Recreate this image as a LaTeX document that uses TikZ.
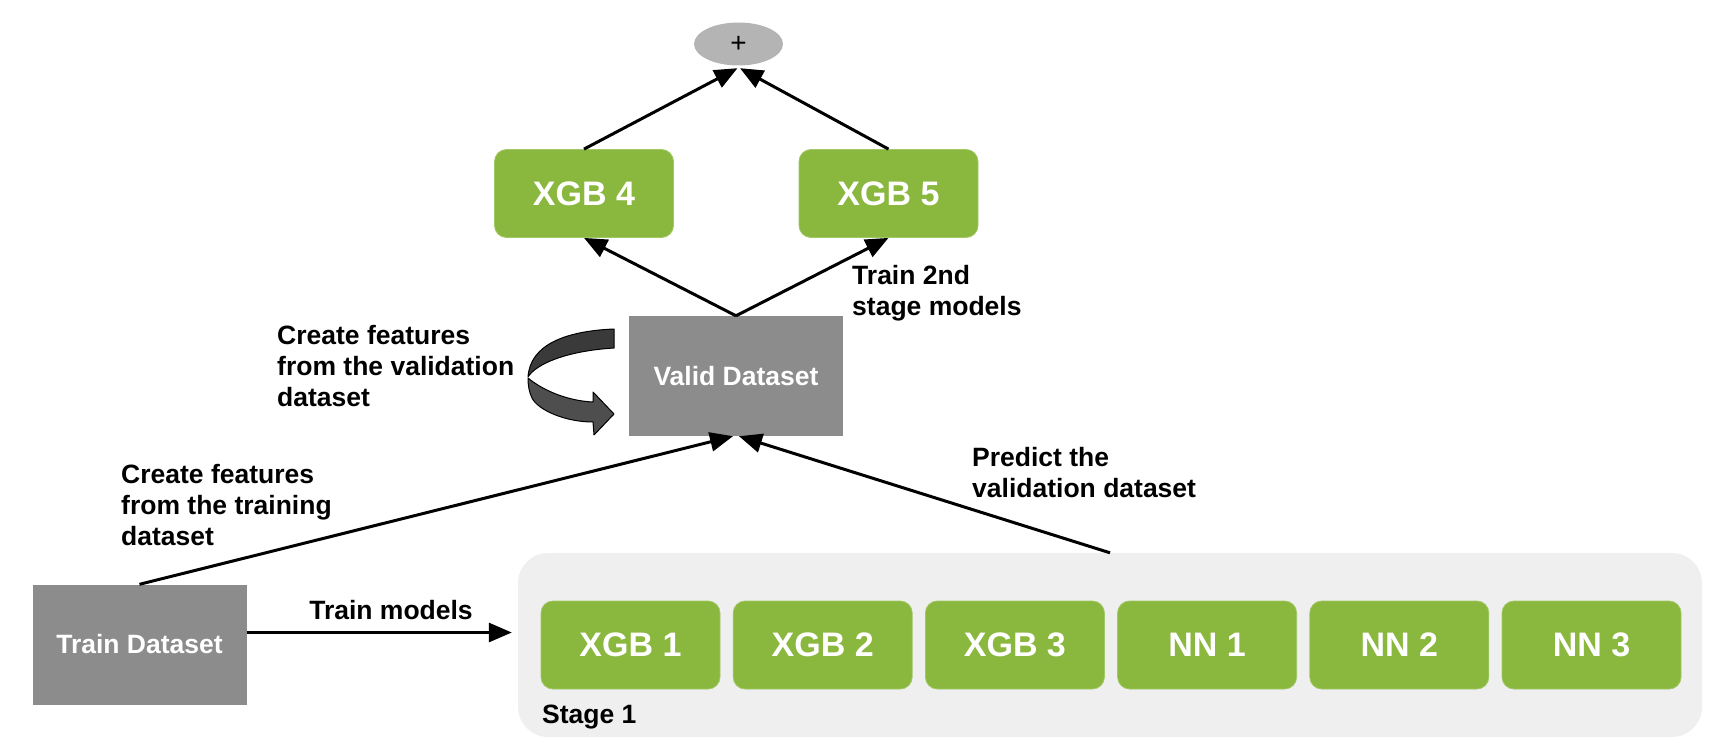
\documentclass[tikz,border=0pt]{standalone}
\usepackage{fontspec}
\setmainfont{Liberation Sans}
\usetikzlibrary{arrows.meta,shapes.geometric}
\definecolor{nvgreen}{RGB}{138,183,61}
\definecolor{nvedge}{RGB}{160,200,100}
\definecolor{boxgray}{RGB}{140,140,140}
\definecolor{plusgray}{RGB}{180,180,180}
\definecolor{stagebg}{RGB}{239,239,239}
\definecolor{curlA}{RGB}{58,58,58}
\definecolor{curlB}{RGB}{78,78,78}
\tikzset{
  greenbox/.style={rectangle, rounded corners=12pt, fill=nvgreen, draw=nvedge, line width=0.8pt,
    minimum width=179pt, minimum height=88pt, inner sep=0pt, text=white,
    font=\bfseries\fontsize{34}{40}\selectfont},
  graybox/.style={rectangle, fill=boxgray, minimum width=214pt, minimum height=120pt, inner sep=0pt,
    text=white, font=\bfseries\fontsize{26.5}{31}\selectfont},
  lbl/.style={align=left, anchor=north west, inner sep=0pt, font=\bfseries\fontsize{26.5}{31}\selectfont},
  arr/.style={line width=3pt, -{Triangle[length=23pt,width=19pt]}},
  curl/.style={draw=black, line width=1pt, line join=round},
}
\begin{document}
\begin{tikzpicture}[x=1pt,y=-1pt]
\useasboundingbox (0,0) rectangle (1720,752);
% stage container
\node[rectangle, rounded corners=30pt, fill=stagebg, minimum width=1184pt, minimum height=184pt, inner sep=0pt] (stage) at (1110,645) {};
% stage-1 models
\node[greenbox] (xgb1) at (630.5,645) {XGB 1};
\node[greenbox] (xgb2) at (822.7,645) {XGB 2};
\node[greenbox] (xgb3) at (1014.9,645) {XGB 3};
\node[greenbox] (nn1) at (1207.1,645) {NN 1};
\node[greenbox] (nn2) at (1399.3,645) {NN 2};
\node[greenbox] (nn3) at (1591.5,645) {NN 3};
\node[anchor=base west, inner sep=0pt, font=\bfseries\fontsize{26.5}{31}\selectfont] (stagelbl) at (542,723) {Stage 1};
% datasets
\node[graybox] (train) at (139.5,644.5) {Train Dataset};
\node[graybox] (valid) at (736,376) {Valid Dataset};
% second stage
\node[greenbox] (xgb4) at (584,193.5) {XGB 4};
\node[greenbox] (xgb5) at (888.5,193.5) {XGB 5};
\node[ellipse, fill=plusgray, minimum width=89pt, minimum height=43pt, inner sep=0pt,
  font=\fontsize{28}{30}\selectfont] (plus) at (738.5,44) {+};
% connectors
\draw[arr] (xgb4.north) -- ([xshift=-1pt,yshift=-2.5pt]plus.south);
\draw[arr] (xgb5.north) -- ([xshift=1.5pt,yshift=-2.5pt]plus.south);
\draw[arr] (valid.north) -- (xgb4.south);
\draw[arr] (valid.north) -- (xgb5.south);
\draw[arr] (train.north) -- ([xshift=-3pt]valid.south);
\draw[arr] (stage.north) -- ([xshift=3pt]valid.south);
\coordinate (tmstart) at ([yshift=12pt]train.east);
\coordinate (tmend) at ([xshift=-6pt]tmstart -| stage.west);
\draw[arr] (tmstart) -- (tmend);
% labels
\node[inner sep=0pt, font=\bfseries\fontsize{26.5}{31}\selectfont] (tmlbl) at (391,610) {Train models};
\node[lbl] (lbltrain) at (121,464) {Create features\\from the training\\dataset};
\node[lbl] (lblvalid) at (277,325) {Create features\\from the validation\\dataset};
\node[lbl] (lblpred) at (972,447) {Predict the\\validation dataset};
\node[lbl] (lbl2nd) at (852,265) {Train 2nd\\stage models};
% curved arrow: lower band with head
\draw[curl, fill=curlB]
  (528,378) .. controls (545,392) and (570,401) .. (593,402)
  -- (593,392) -- (614,414) -- (594,435) -- (593,422)
  .. controls (565,422) and (538,410) .. (532,398)
  .. controls (529,392) and (528,385) .. (528,378) -- cycle;
% curved arrow: upper band
\draw[curl, fill=curlA]
  (614,329) .. controls (565,331) and (530,345) .. (528,377)
  .. controls (536,364) and (566,351) .. (614,348) -- cycle;
\end{tikzpicture}
\end{document}
